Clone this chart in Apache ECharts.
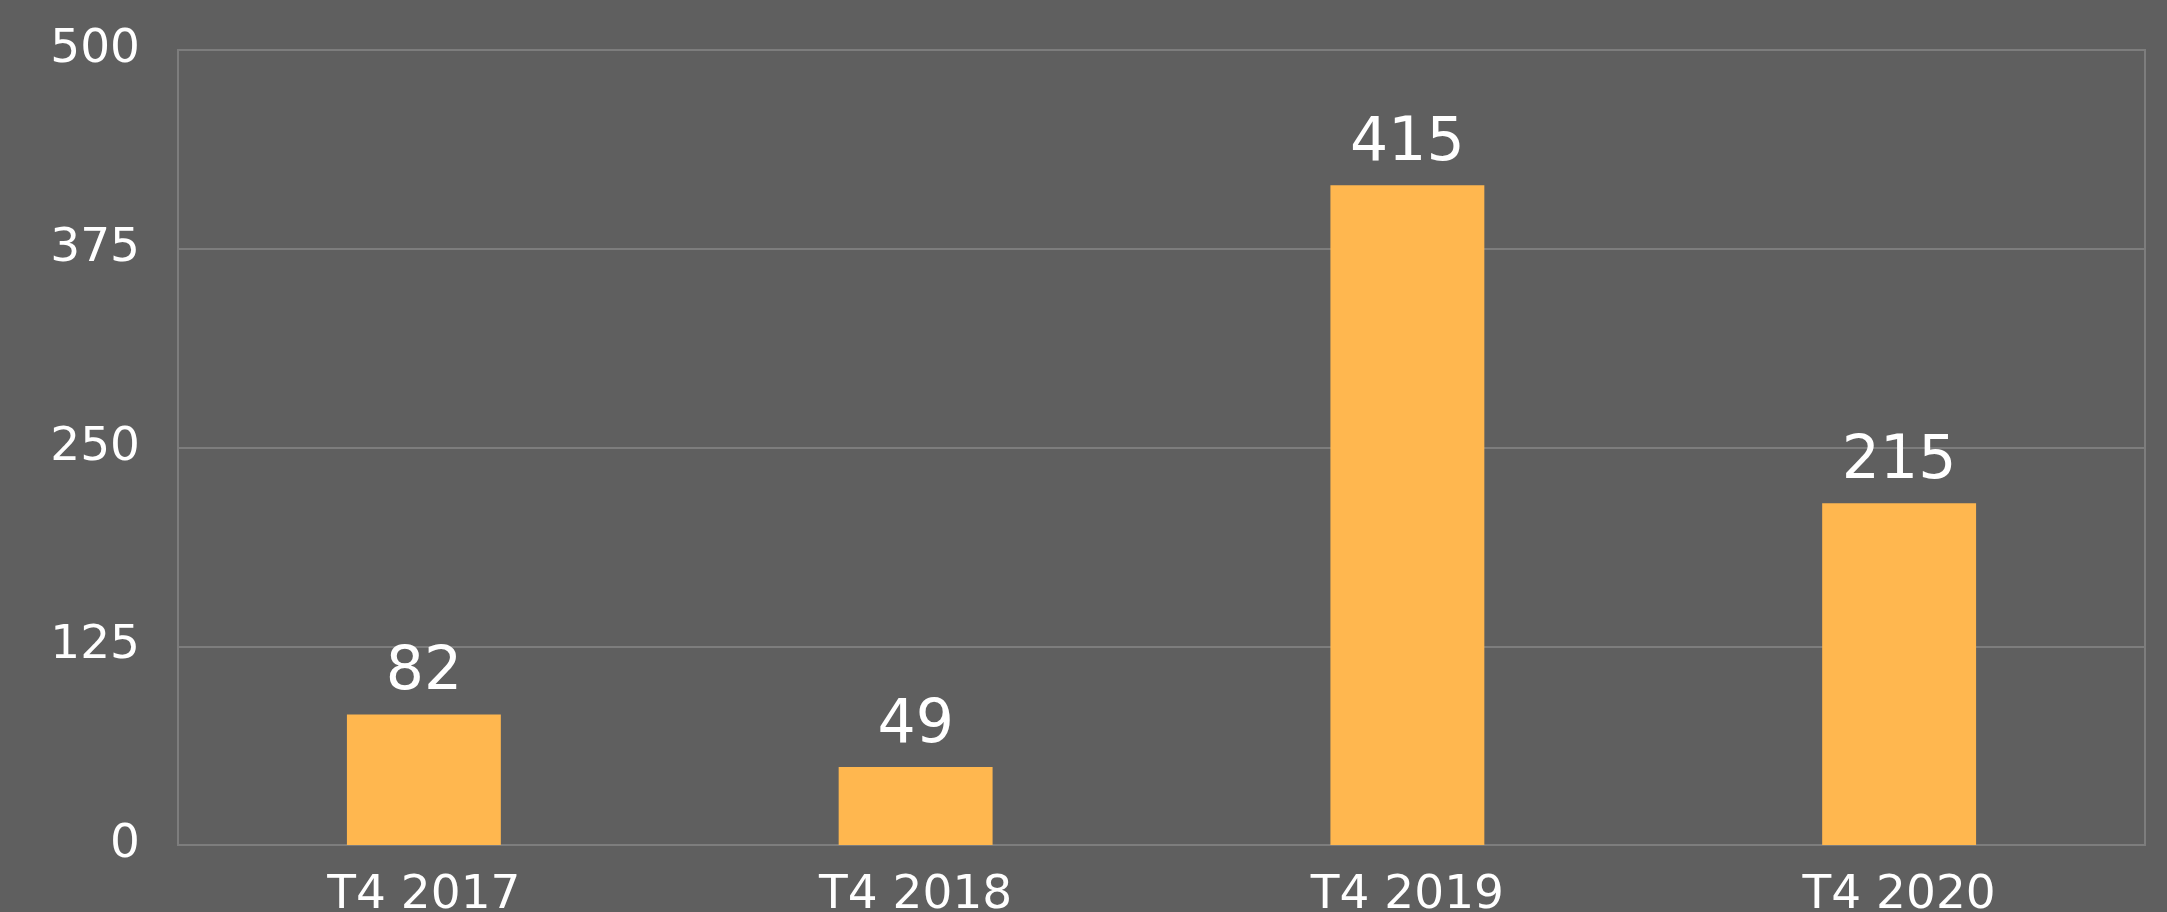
<!DOCTYPE html>
<html>
<head>
<meta charset="utf-8">
<script src="https://cdn.jsdelivr.net/npm/echarts@6/dist/echarts.min.js"></script>
<style>
  html, body { margin: 0; padding: 0; background: #5f5f5f; }
  #chart { width: 2167px; height: 912px; }
</style>
</head>
<body>
<div id="chart"></div>
<script>
// quarters and values
var categories = ['T4 2017', 'T4 2018', 'T4 2019', 'T4 2020'];
var values = [82, 49, 415, 215];
var yTicks = [0, 125, 250, 375, 500];

var chart = echarts.init(document.getElementById('chart'));
var option = {
  backgroundColor: '#5f5f5f',
  textStyle: { fontFamily: 'DejaVu Sans' },
  grid: {
    left: 178,
    right: 22,
    top: 50,
    bottom: 67,
    outerBoundsMode: 'none',
    show: true,
    borderColor: '#7d7d7d',
    borderWidth: 2
  },
  xAxis: {
    type: 'category',
    data: categories,
    axisLine: { lineStyle: { color: '#7d7d7d', width: 2 } },
    axisTick: { show: false },
    axisLabel: {
      color: '#ffffff',
      fontSize: 47,
      margin: 27
    }
  },
  yAxis: {
    type: 'value',
    min: yTicks[0],
    max: yTicks[yTicks.length - 1],
    interval: yTicks[1] - yTicks[0],
    axisLine: { show: true, lineStyle: { color: '#7d7d7d', width: 2 } },
    axisTick: { show: false },
    splitLine: { lineStyle: { color: '#7d7d7d', width: 2 } },
    axisLabel: {
      color: '#ffffff',
      fontSize: 47,
      margin: 38,
      padding: [0, 0, 7, 0]
    }
  },
  series: [{
    type: 'bar',
    data: values,
    barWidth: '31.3%',
    itemStyle: { color: '#ffb74f' },
    label: {
      show: true,
      position: 'top',
      distance: 11,
      color: '#ffffff',
      fontSize: 60
    }
  }]
};
chart.setOption(option);
</script>
</body>
</html>
